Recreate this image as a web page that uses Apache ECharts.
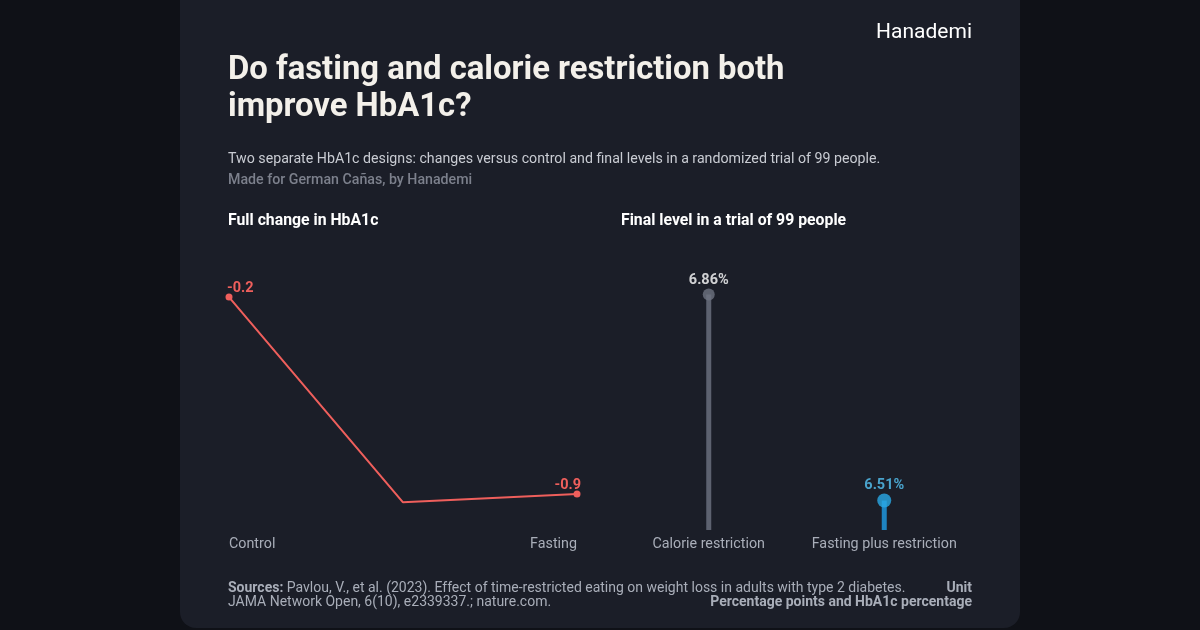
<!DOCTYPE html>
<html>
<head>
<meta charset="utf-8">
<script src="https://cdn.jsdelivr.net/npm/echarts@6/dist/echarts.min.js"></script>
<style>
  html, body { margin: 0; padding: 0; background: #0f1117; }
  #echart { width: 1200px; height: 630px; }
</style>
</head>
<body>
<div id="echart"></div>
<script>
// left panel: change in HbA1c (percentage points)
const changeLabels = ['Control', '', 'Fasting'];
const changeValues = [-0.2, -0.93, -0.9];

// right panel: final HbA1c level (%)
const levelLabels = ['Calorie restriction', 'Fasting plus restriction'];
const levelValues = [6.86, 6.51];

const FONT = 'Roboto, "Noto Sans", sans-serif';
const RED = '#ef5f5c';
const MUTED = '#a9aeb9';

const chart = echarts.init(document.getElementById('echart'));

// small helper for the text blocks around the charts
function txt(text, x, y, size, weight, color, align) {
    return {
        type: 'text',
        x: x, y: y,
        style: {
            text: text,
            fill: color,
            font: weight + ' ' + size + 'px ' + FONT,
            textAlign: align || 'left',
            textVerticalAlign: 'middle'
        },
        z: 5
    };
}

const option = {
    backgroundColor: '#0f1117',
    animation: false,
    graphic: [
        {
            type: 'rect',
            shape: { x: 180, y: -20, width: 840, height: 648, r: 16 },
            style: { fill: '#1b1e28' },
            z: -10
        },
        txt('Hanademi', 972, 33, 21, 400, '#ffffff', 'right'),
        txt('Do fasting and calorie restriction both', 228, 71, 32.8, 700, '#f3f0ea'),
        txt('improve HbA1c?', 228, 108, 32.8, 700, '#f3f0ea'),
        txt('Two separate HbA1c designs: changes versus control and final levels in a randomized trial of 99 people.', 228, 159, 14.2, 400, '#c9ccd3'),
        txt('Made for German Cañas, by Hanademi', 228, 180, 14.2, 500, '#7c808c'),
        txt('Full change in HbA1c', 228, 221, 15.8, 700, '#ffffff'),
        txt('Final level in a trial of 99 people', 621, 221, 15.8, 700, '#ffffff'),
        {
            type: 'text',
            x: 228, y: 588,
            style: {
                text: '{b|Sources:} Pavlou, V., et al. (2023). Effect of time-restricted eating on weight loss in adults with type 2 diabetes.',
                fill: MUTED,
                font: '400 14px ' + FONT,
                textVerticalAlign: 'middle',
                rich: { b: { fontWeight: 700, fontSize: 14, fontFamily: FONT, fill: MUTED } }
            },
            z: 5
        },
        txt('JAMA Network Open, 6(10), e2339337.; nature.com.', 228, 602, 14, 400, MUTED),
        txt('Unit', 972, 588, 14, 700, MUTED, 'right'),
        txt('Percentage points and HbA1c percentage', 972, 602, 14, 700, MUTED, 'right')
    ],
    grid: [
        { left: 229, width: 348, top: 269, height: 253 },
        { left: 621, width: 351, top: 271, height: 259 }
    ],
    xAxis: [
        {
            gridIndex: 0,
            type: 'category',
            data: changeLabels,
            boundaryGap: false,
            axisLine: { show: false },
            axisTick: { show: false },
            axisLabel: {
                color: MUTED, fontFamily: FONT, fontSize: 14.3, margin: 15,
                alignMinLabel: 'left', alignMaxLabel: 'right', interval: 0
            }
        },
        {
            gridIndex: 1,
            type: 'category',
            data: levelLabels,
            axisLine: { show: false },
            axisTick: { show: false },
            axisLabel: { color: MUTED, fontFamily: FONT, fontSize: 14.3, margin: 7, interval: 0 }
        }
    ],
    yAxis: [
        {
            gridIndex: 0,
            type: 'value',
            min: -1.0,
            max: -0.1,
            show: false
        },
        {
            gridIndex: 1,
            type: 'value',
            min: 6.46,
            max: 6.9,
            show: false
        }
    ],
    series: [
        {
            type: 'line',
            xAxisIndex: 0,
            yAxisIndex: 0,
            data: changeValues.map((v, i) => ({
                value: v,
                symbolSize: i === 1 ? 0 : 7,
                label: {
                    show: i !== 1,
                    position: 'top',
                    align: i === 0 ? 'left' : 'right',
                    offset: i === 0 ? [-2, 2] : [4, 2]
                }
            })),
            symbol: 'circle',
            lineStyle: { color: RED, width: 2 },
            itemStyle: { color: RED },
            label: {
                color: RED, fontFamily: FONT, fontSize: 14.5, fontWeight: 700, distance: 0,
                formatter: p => p.value.toFixed(1)
            }
        },
        {
            type: 'bar',
            xAxisIndex: 1,
            yAxisIndex: 1,
            barWidth: 5,
            data: levelValues.map((v, i) => ({
                value: v,
                itemStyle: { color: i === 0 ? '#5d6270' : '#1e84c2' }
            }))
        },
        {
            type: 'scatter',
            xAxisIndex: 1,
            yAxisIndex: 1,
            symbol: 'circle',
            data: levelValues.map((v, i) => ({
                value: v,
                symbolSize: i === 0 ? 12 : 14,
                itemStyle: { color: i === 0 ? '#6e7381' : '#29a9e6' },
                label: { color: i === 0 ? '#ffffff' : '#55c4f5' }
            })),
            label: {
                show: true,
                position: 'top',
                distance: 1,
                fontFamily: FONT, fontSize: 14.5, fontWeight: 700,
                formatter: p => p.value.toFixed(2) + '%'
            }
        }
    ]
};

chart.setOption(option);
</script>
</body>
</html>
